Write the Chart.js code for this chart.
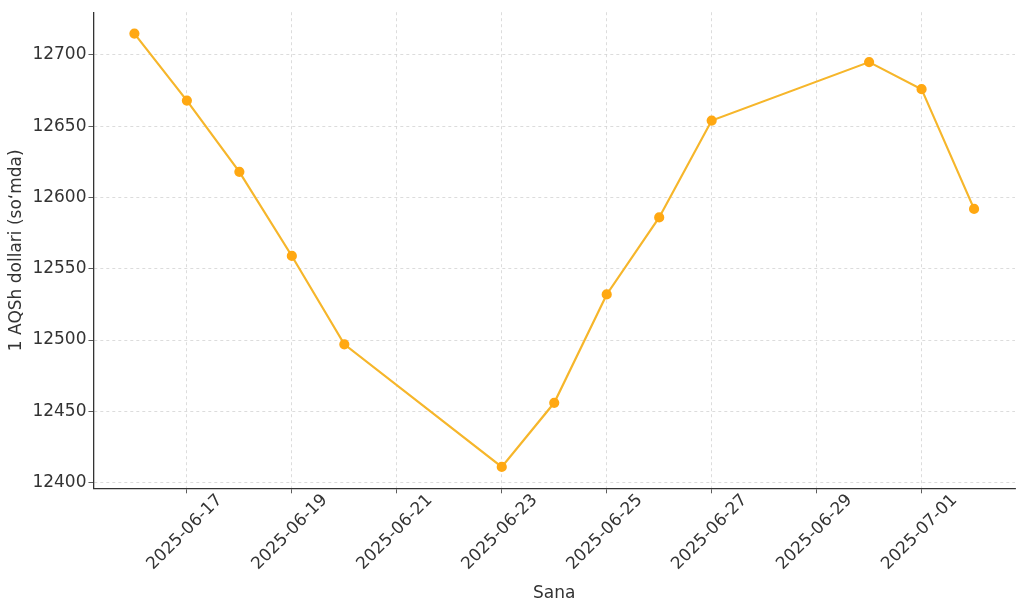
<!DOCTYPE html>
<html>
<head>
<meta charset="utf-8">
<script src="https://cdn.jsdelivr.net/npm/chart.js@4.4.1/dist/chart.umd.min.js"></script>
<style>
  html, body { margin: 0; padding: 0; background: #fff; }
  #wrap { width: 1024px; height: 610px; }
</style>
</head>
<body>
<div id="wrap"><canvas id="rate-chart"></canvas></div>
<script>
// kurs ma'lumotlari (so'm / 1 USD)
const DATES = [
  '2025-06-16', '2025-06-17', '2025-06-18', '2025-06-19', '2025-06-20',
  '2025-06-23', '2025-06-24', '2025-06-25', '2025-06-26', '2025-06-27',
  '2025-06-30', '2025-07-01', '2025-07-02'
];
const RATES = [12715, 12668, 12618, 12559, 12497, 12411, 12456, 12532, 12586, 12654, 12695, 12676, 12592];

const X_TICK_LABELS = [
  '2025-06-17', '2025-06-19', '2025-06-21', '2025-06-23',
  '2025-06-25', '2025-06-27', '2025-06-29', '2025-07-01'
];
const Y_TICKS = [12400, 12450, 12500, 12550, 12600, 12650, 12700];

const BASE = new Date(DATES[0] + 'T00:00:00Z');
const dayOf = s => Math.round((new Date(s + 'T00:00:00Z') - BASE) / 86400000);

const points = DATES.map((d, i) => ({ x: dayOf(d), y: RATES[i] }));
const xTickValues = X_TICK_LABELS.map(dayOf);
const xLabelByValue = {};
X_TICK_LABELS.forEach(s => { xLabelByValue[dayOf(s)] = s; });

const FONT = 'DejaVu Sans';
const TEXT = '#333333';
const FS = 17;

// matplotlib-style rotated labels (centred on the tick)
const rotatedLabels = {
  id: 'rotatedLabels',
  afterDraw(chart) {
    const sx = chart.scales.x;
    const c = chart.ctx;
    c.save();
    c.font = `${FS}px "${FONT}"`;
    c.fillStyle = TEXT;
    c.textAlign = 'center';
    c.textBaseline = 'middle';
    sx.ticks.forEach(t => {
      const px = sx.getPixelForValue(t.value);
      c.save();
      c.translate(px - 2, sx.top + 44);
      c.rotate(-Math.PI / 4);
      c.fillText(xLabelByValue[t.value] || '', 0, 0);
      c.restore();
    });
    c.restore();
  }
};

new Chart(document.getElementById('rate-chart'), {
  type: 'line',
  data: {
    datasets: [{
      data: points,
      borderColor: '#F6B62B',
      backgroundColor: '#FFA812',
      pointBackgroundColor: '#FFA812',
      pointBorderColor: '#FFA812',
      pointRadius: 4,
      borderWidth: 2.2,
      tension: 0,
      fill: false
    }]
  },
  options: {
    responsive: true,
    maintainAspectRatio: false,
    animation: false,
    layout: { padding: { top: 0, right: 9, left: 6, bottom: 0 } },
    plugins: { legend: { display: false }, tooltip: { enabled: false } },
    scales: {
      x: {
        type: 'linear',
        min: -0.78,
        max: 16.78,
        afterBuildTicks: s => { s.ticks = xTickValues.map(v => ({ value: v })); },
        grid: { color: '#d3d3d3', lineWidth: 0.8, tickColor: '#333', tickLength: 5 },
        border: { color: '#333', width: 1.3, dash: [3, 3] },
        ticks: {
          color: 'rgba(0,0,0,0)',
          font: { family: FONT, size: FS },
          minRotation: 45, maxRotation: 45,
          callback: v => xLabelByValue[v] || ''
        },
        title: { display: true, text: 'Sana', color: TEXT, font: { family: FONT, size: FS }, padding: { top: 0, bottom: 6 } }
      },
      y: {
        min: 12396,
        max: 12730,
        afterBuildTicks: s => { s.ticks = Y_TICKS.map(v => ({ value: v })); },
        grid: { color: '#d3d3d3', lineWidth: 0.8, tickColor: '#333', tickLength: 5 },
        border: { color: '#333', width: 1.3, dash: [3, 3] },
        ticks: { color: TEXT, font: { family: FONT, size: FS }, padding: 2, callback: v => String(v) },
        title: { display: true, text: '1 AQSh dollari (so‘mda)', color: TEXT, font: { family: FONT, size: FS }, padding: { top: 0, bottom: 4 } }
      }
    }
  },
  plugins: [rotatedLabels]
});
</script>
</body>
</html>
